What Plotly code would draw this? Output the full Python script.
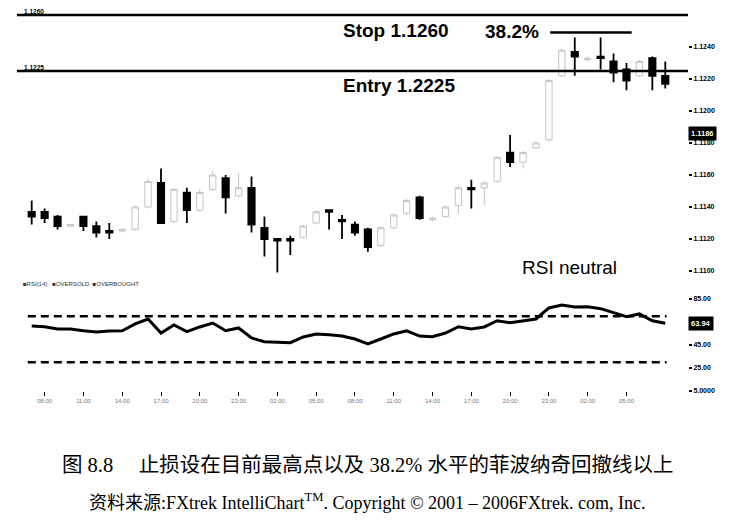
import plotly.graph_objects as go

# ---------------- data ----------------
bar_index = list(range(50))
opens = [1.1137, 1.1137, 1.1134, 1.1128, 1.1134, 1.1128, 1.1125, 1.1125, 1.1126, 1.1140,
         1.1155, 1.1131, 1.1149, 1.1138, 1.1151, 1.1158, 1.1147, 1.1152, 1.1127, 1.1120,
         1.1120, 1.1121, 1.1130, 1.1138, 1.1132, 1.1129, 1.1126, 1.1116, 1.1127, 1.1136,
         1.1146, 1.1132, 1.1134, 1.1141, 1.1152, 1.1152, 1.1156, 1.1174, 1.1168, 1.1177,
         1.1182, 1.1222, 1.1237, 1.1232, 1.1234, 1.1231, 1.1226, 1.1222, 1.1233, 1.1222]
highs = [1.1144, 1.1139, 1.1135, 1.1129, 1.1134, 1.1131, 1.1130, 1.1126, 1.1141, 1.1158,
         1.1164, 1.1152, 1.1152, 1.1151, 1.1163, 1.1160, 1.1161, 1.1159, 1.1134, 1.1120,
         1.1122, 1.1129, 1.1138, 1.1138, 1.1135, 1.1131, 1.1127, 1.1128, 1.1136, 1.1145,
         1.1147, 1.1134, 1.1141, 1.1153, 1.1157, 1.1156, 1.1172, 1.1185, 1.1175, 1.1181,
         1.1220, 1.1239, 1.1246, 1.1234, 1.1246, 1.1236, 1.1230, 1.1232, 1.1234, 1.1231]
lows = [1.1129, 1.1130, 1.1126, 1.1128, 1.1125, 1.1121, 1.1120, 1.1124, 1.1125, 1.1139,
        1.1130, 1.1130, 1.1130, 1.1137, 1.1150, 1.1136, 1.1146, 1.1124, 1.1109, 1.1099,
        1.1110, 1.1120, 1.1129, 1.1126, 1.1120, 1.1122, 1.1112, 1.1115, 1.1126, 1.1135,
        1.1132, 1.1131, 1.1133, 1.1136, 1.1139, 1.1141, 1.1155, 1.1165, 1.1164, 1.1176,
        1.1181, 1.1221, 1.1222, 1.1231, 1.1226, 1.1218, 1.1213, 1.1221, 1.1213, 1.1214]
closes = [1.1134, 1.1133, 1.1128, 1.1129, 1.1128, 1.1124, 1.1124, 1.1126, 1.1140, 1.1156,
          1.1130, 1.1151, 1.1138, 1.1149, 1.1160, 1.1146, 1.1152, 1.1129, 1.1120, 1.1119,
          1.1119, 1.1128, 1.1137, 1.1137, 1.1131, 1.1124, 1.1115, 1.1127, 1.1135, 1.1144,
          1.1133, 1.1133, 1.1140, 1.1152, 1.1151, 1.1155, 1.1171, 1.1168, 1.1174, 1.1180,
          1.1219, 1.1238, 1.1234, 1.1233, 1.1233, 1.1224, 1.1219, 1.1231, 1.1222, 1.1217]
rsi = [61.5, 60.9, 58.9, 58.9, 57.4, 56.3, 57.2, 57.4, 63.3, 67.6,
       55.4, 62.4, 56.6, 60.7, 64.1, 57.4, 59.8, 51.1, 47.9, 47.6,
       47.0, 52.0, 54.6, 54.0, 52.8, 50.2, 45.9, 50.2, 54.6, 57.4,
       52.8, 52.2, 55.4, 60.9, 58.9, 60.7, 66.1, 64.4, 66.1, 67.6,
       77.2, 79.8, 78.0, 78.3, 76.6, 72.8, 69.6, 72.0, 66.1, 63.9]

stop_level = 1.1260
entry_level = 1.1225
fib_level = 1.1249
fib_span = [40.1, 46.4]          # bar indices covered by the 38.2% marker
rsi_bands = [70, 30]
current_price_label = "1.1186"
current_price = 1.1186
current_rsi_label = "63.94"

price_ticks = [1.1100, 1.1120, 1.1140, 1.1160, 1.1180, 1.1200, 1.1220, 1.1240]
rsi_tickvals = [5, 25, 45, 85]
rsi_ticktext = ["5.0000", "25.00", "45.00", "85.00"]
x_tickvals = [1, 4, 7, 10, 13, 16, 19, 22, 25, 28, 31, 34, 37, 40, 43, 46]
x_ticktext = ["08:00", "11:00", "14:00", "17:00", "20:00", "23:00", "02:00", "05:00",
              "08:00", "11:00", "14:00", "17:00", "20:00", "23:00", "02:00", "05:00"]

# ---------------- figure ----------------
PAGE_W, PAGE_H = 737, 532
OFF = 8                       # default page margin around the plot div
W, H = PAGE_W - OFF, PAGE_H - OFF
PLOT_L, PLOT_R = 17, 688      # reference pixel columns of the plot area
L_M, R_M = PLOT_L - OFF, W - (PLOT_R - OFF)

def py(px):   # reference pixel row -> paper y (no top/bottom margin)
    return 1 - (px - OFF) / H
def pxx(px):  # reference pixel col -> paper x (paper spans the plot area)
    return (px - PLOT_L) / (PLOT_R - PLOT_L)

fig = go.Figure()
fig.add_trace(go.Candlestick(
    x=bar_index, open=opens, high=highs, low=lows, close=closes,
    xaxis="x", yaxis="y", whiskerwidth=0,
    increasing=dict(line=dict(color="#c4c4c4", width=1), fillcolor="white"),
    decreasing=dict(line=dict(color="black", width=1.8), fillcolor="black"),
    showlegend=False, hoverinfo="skip"))

fig.add_trace(go.Scatter(x=bar_index, y=rsi, xaxis="x2", yaxis="y2", mode="lines",
                         line=dict(color="black", width=3), showlegend=False, hoverinfo="skip"))
for lvl in rsi_bands:
    fig.add_trace(go.Scatter(x=[bar_index[0] - 0.3, bar_index[-1] + 0.1], y=[lvl, lvl],
                             xaxis="x2", yaxis="y2", mode="lines",
                             line=dict(color="black", width=2.5, dash="8px,5px"),
                             showlegend=False, hoverinfo="skip"))

shapes = []
for lvl in (stop_level, entry_level):
    shapes.append(dict(type="line", xref="x domain", yref="y", x0=0, x1=1, y0=lvl, y1=lvl,
                       line=dict(color="black", width=2.5)))
shapes.append(dict(type="line", xref="x", yref="y", x0=fib_span[0], x1=fib_span[1],
                   y0=fib_level, y1=fib_level, line=dict(color="black", width=2.5)))

bold = "Liberation Sans"
def txt(text, x, y, size, weight="normal", color="black", anchor="left", family=bold):
    return dict(text=text, x=pxx(x), y=py(y), xref="paper", yref="paper",
                xanchor=anchor, yanchor="middle", showarrow=False,
                font=dict(family=family, size=size, color=color, weight=weight))

ann = [
    txt("Stop 1.1260", 341, 30, 19, "bold"),
    txt("Entry 1.2225", 341, 86, 19, "bold"),
    txt("38.2%", 483, 32, 19, "bold"),
    txt("RSI neutral", 520, 267, 19),
    txt("1.1260", 22, 11, 6.5, "bold"),
    txt("1.1225", 22, 67, 6.5, "bold"),
    txt("\u25a0RSI(14),  \u25a0OVERSOLD  \u25a0OVERBOUGHT", 21, 284, 6, color="#333"),
]
ann.append(dict(text=current_price_label, x=pxx(688), y=current_price, xref="paper", yref="y",
                xanchor="left", yanchor="middle", showarrow=False, bgcolor="black", borderpad=2,
                font=dict(family=bold, size=7.5, color="white", weight="bold")))
ann.append(dict(text=current_rsi_label, x=pxx(688), y=rsi[-1], xref="paper", yref="y2",
                xanchor="left", yanchor="middle", showarrow=False, bgcolor="black", borderpad=2,
                font=dict(family=bold, size=7.5, color="white", weight="bold")))
cap_font = "Liberation Serif, Noto Sans CJK SC"
ann.append(txt("图 8.8\u3000 止损设在目前最高点以及 38.2% 水平的菲波纳奇回撤线以上",
               368, 465, 20.5, anchor="center", family=cap_font))
ann.append(txt("资料来源:FXtrek IntelliChart<sup>TM</sup>. Copyright © 2001 – 2006FXtrek. com, Inc.",
               368, 501, 18, anchor="center", family=cap_font))

# axis mapping
x_lo = (PLOT_L - 31.7) / 12.93
x_hi = (PLOT_R - 31.7) / 12.93
def price_at(px):
    return 1.1240 - (px - 47) / 16000
def rsi_at(px):
    return 85 - (px - 299) / 1.15

fig.update_layout(
    width=W, height=H, margin=dict(l=L_M, r=R_M, t=0, b=0),
    paper_bgcolor="white", plot_bgcolor="white",
    shapes=shapes, annotations=ann, showlegend=False,
    xaxis=dict(domain=[0, 1], range=[x_lo, x_hi], anchor="y", showticklabels=False,
               showgrid=False, zeroline=False, showline=False, ticks="",
               rangeslider=dict(visible=False)),
    yaxis=dict(domain=[py(280), py(8)], range=[price_at(280), price_at(8)], side="right",
               anchor="x", tickvals=price_ticks, tickformat=".4f", ticks="outside",
               ticklen=3, tickcolor="black", tickwidth=1.5, showgrid=False, zeroline=False,
               showline=False,
               tickfont=dict(family=bold, size=7, color="black", weight="bold")),
    xaxis2=dict(domain=[0, 1], range=[x_lo, x_hi], anchor="y2", tickvals=x_tickvals,
                ticktext=x_ticktext, ticks="inside", ticklen=4, tickcolor="black",
                tickwidth=1.2, showgrid=False, zeroline=False, showline=False,
                tickfont=dict(family=bold, size=6, color="#777")),
    yaxis2=dict(domain=[py(396), py(295)], range=[rsi_at(396), rsi_at(295)], side="right",
                anchor="x2", tickvals=rsi_tickvals, ticktext=rsi_ticktext, ticks="outside",
                ticklen=3, tickcolor="black", tickwidth=1.5, showgrid=False, zeroline=False,
                showline=False,
                tickfont=dict(family=bold, size=7, color="black", weight="bold")),
)

fig.write_html("out.html")
